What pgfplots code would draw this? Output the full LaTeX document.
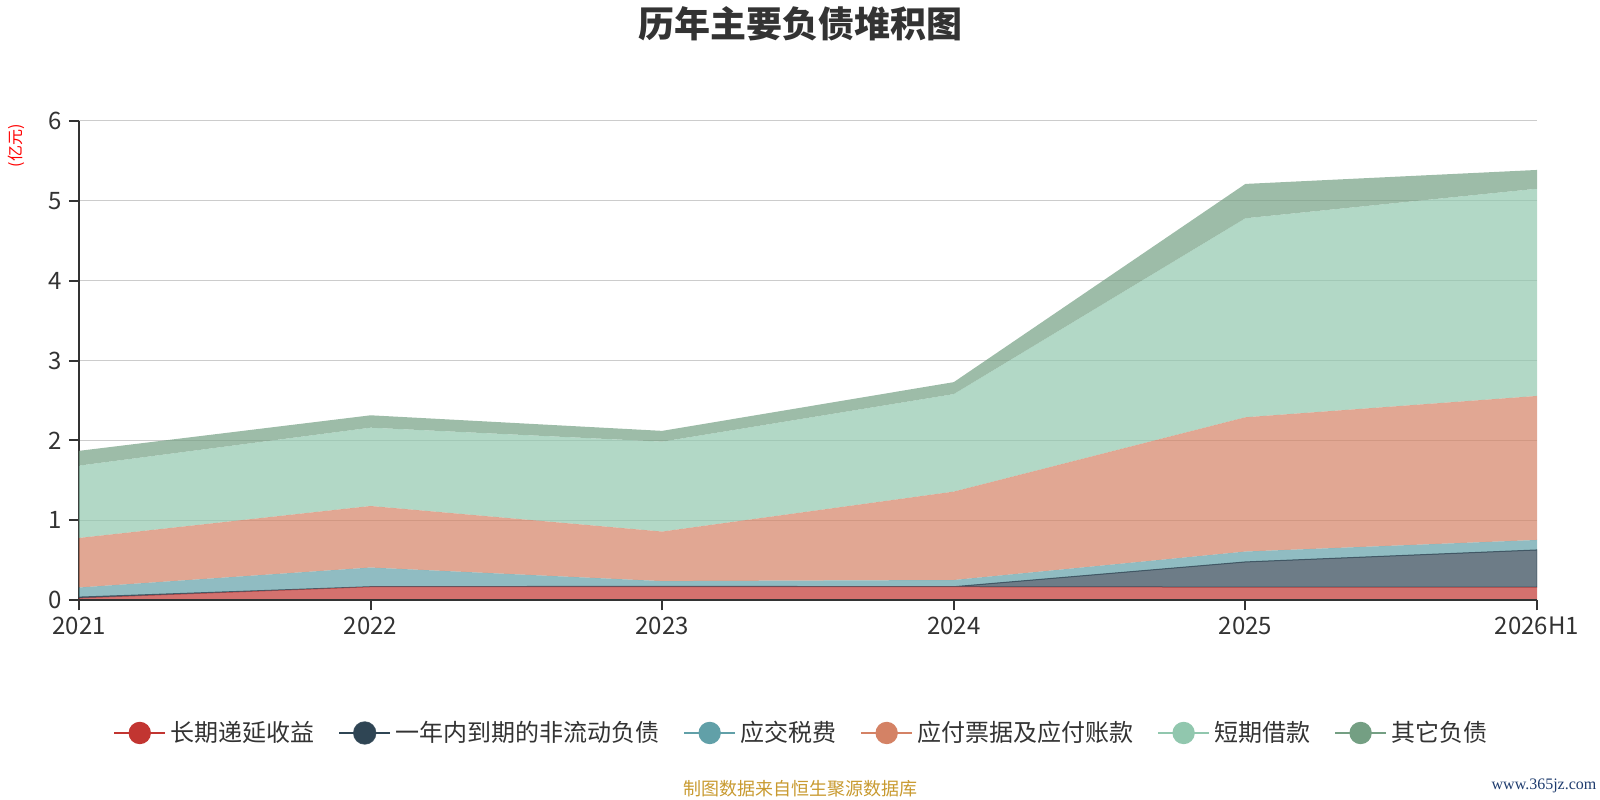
\documentclass[border=0pt]{standalone}
\usepackage{pgfplots}
\pgfplotsset{compat=1.18}
\usepackage{fontspec}
\setmainfont{Noto Sans CJK SC}
\newfontfamily\wmfont{Liberation Serif}
\definecolor{c1}{HTML}{C23531}
\definecolor{c2}{HTML}{2F4554}
\definecolor{c3}{HTML}{61A0A8}
\definecolor{c4}{HTML}{D48265}
\definecolor{c5}{HTML}{91C7AE}
\definecolor{c6}{HTML}{749F83}
\definecolor{axisdark}{HTML}{333333}
\definecolor{gridgray}{HTML}{CCCCCC}
\definecolor{footgold}{HTML}{C89A30}
\definecolor{wmblue}{HTML}{1F3C6E}
\newcommand{\legimg}[1]{\draw[#1, line width=1bp, draw opacity=1] (0bp,0bp) -- (25.5bp,0bp); \fill[#1, fill opacity=1] (12.75bp,0bp) circle (5.6bp);}
\begin{document}
\begin{tikzpicture}
\useasboundingbox (0,0) rectangle (800bp,400bp);
\node[font=\fontsize{18bp}{20bp}\selectfont\bfseries, text=axisdark] at (400bp,388bp) {历年主要负债堆积图};
\node[font=\fontsize{8bp}{10bp}\selectfont, text=red, rotate=90] at (8bp,327bp) {(亿元)};
\begin{axis}[
  at={(39.5bp,99.85bp)}, anchor=south west,
  width=729bp, height=239.75bp, scale only axis,
  xmin=0, xmax=5, ymin=0, ymax=6,
  xtick={0,1,2,3,4,5},
  xticklabels={2021,2022,2023,2024,2025,2026H1},
  ytick={0,1,2,3,4,5,6},
  stack plots=y,
  axis x line*=bottom, axis y line*=left,
  ymajorgrids,
  grid style={color=gridgray, line width=0.6bp},
  axis line style={color=axisdark, line width=1bp},
  tick style={color=axisdark, line width=1bp},
  tick align=outside, major tick length=5bp,
  ticklabel style={font=\fontsize{12bp}{14bp}\selectfont, text=axisdark},
  /pgf/number format/assume math mode=true,
  legend style={at={(0.496,-0.2767)}, anchor=center, draw=none, fill=none,
    font=\fontsize{12bp}{14bp}\selectfont, text=axisdark,
    /tikz/every even column/.append style={column sep=10bp}},
  legend columns=6,
  legend cell align=left,
  extra description/.code={\draw[axisdark, line width=1bp] (0,0) -- (1,0);},
]
\addplot[fill=c1, fill opacity=0.7, draw=none, legend image code/.code={\legimg{c1}}]
  coordinates {(0,0.03) (1,0.17) (2,0.17) (3,0.17) (4,0.165) (5,0.165)} \closedcycle;
\addlegendentry{长期递延收益}
\addplot[fill=c2, fill opacity=0.7, draw=c2, line width=0.5bp, draw opacity=0.8, legend image code/.code={\legimg{c2}}]
  coordinates {(0,0.01) (1,0.0) (2,0.005) (3,0.0) (4,0.315) (5,0.465)} \closedcycle;
\addlegendentry{一年内到期的非流动负债}
\addplot[fill=c3, fill opacity=0.7, draw=none, legend image code/.code={\legimg{c3}}]
  coordinates {(0,0.12) (1,0.24) (2,0.065) (3,0.084) (4,0.13) (5,0.125)} \closedcycle;
\addlegendentry{应交税费}
\addplot[fill=c4, fill opacity=0.7, draw=none, legend image code/.code={\legimg{c4}}]
  coordinates {(0,0.62) (1,0.77) (2,0.62) (3,1.106) (4,1.68) (5,1.802)} \closedcycle;
\addlegendentry{应付票据及应付账款}
\addplot[fill=c5, fill opacity=0.7, draw=none, legend image code/.code={\legimg{c5}}]
  coordinates {(0,0.905) (1,0.98) (2,1.125) (3,1.22) (4,2.49) (5,2.593)} \closedcycle;
\addlegendentry{短期借款}
\addplot[fill=c6, fill opacity=0.7, draw=none, legend image code/.code={\legimg{c6}}]
  coordinates {(0,0.185) (1,0.155) (2,0.135) (3,0.15) (4,0.43) (5,0.235)} \closedcycle;
\addlegendentry{其它负债}
\end{axis}
\node[font=\fontsize{9bp}{11bp}\selectfont, text=footgold] at (400bp,5.5bp) {制图数据来自恒生聚源数据库};
\node[font=\wmfont\fontsize{8bp}{10bp}\selectfont, text=wmblue] at (772bp,7bp) {www.365jz.com};
\end{tikzpicture}
\end{document}
